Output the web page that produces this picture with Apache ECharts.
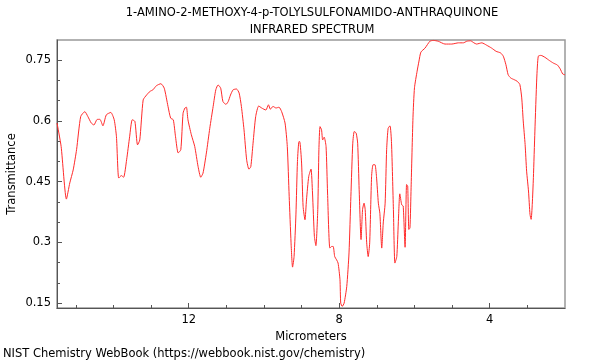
<!DOCTYPE html>
<html>
<head>
<meta charset="utf-8">
<script src="https://cdn.jsdelivr.net/npm/echarts@6/dist/echarts.min.js"></script>
<style>html,body{margin:0;padding:0;background:#fff}#c{width:600px;height:360px}</style>
</head>
<body>
<div id="c"></div>
<script>
const titleLines = ['1-AMINO-2-METHOXY-4-p-TOLYLSULFONAMIDO-ANTHRAQUINONE', 'INFRARED SPECTRUM'];
const xName = 'Micrometers';
const yName = 'Transmittance';
const footer = 'NIST Chemistry WebBook (https://webbook.nist.gov/chemistry)';
const xTickLabels = [4, 8, 12];
const xMinorTicks = [3, 5, 6, 7, 9, 10, 11, 13, 14, 15];
const yTickLabels = [0.15, 0.3, 0.45, 0.6, 0.75];
const yMinorTicks = [0.2, 0.25, 0.35, 0.4, 0.5, 0.55, 0.65, 0.7];

const wavelength = [
15.50,15.39,15.25,15.16,15.07,14.98,14.87,14.76,14.68,14.59,14.52,14.43,14.36,14.28,14.19,14.07,13.98,13.92,13.86,13.79,
13.73,13.65,13.57,13.50,13.43,13.36,13.30,13.21,13.12,13.03,12.95,12.86,12.74,12.65,12.55,12.48,12.41,12.35,12.28,12.21,
12.15,12.10,12.06,12.02,11.93,11.84,11.75,11.68,11.62,11.53,11.44,11.35,11.28,11.22,11.15,11.09,11.01,10.95,10.89,10.82,
10.73,10.66,10.60,10.53,10.46,10.40,10.35,10.29,10.22,10.14,10.06,9.95,9.88,9.83,9.76,9.68,9.60,9.53,9.44,9.38,
9.33,9.28,9.24,9.20,9.15,9.11,9.07,9.05,9.00,8.96,8.91,8.87,8.81,8.75,8.71,8.66,8.62,8.57,8.54,8.51,
8.47,8.44,8.40,8.35,8.31,8.25,8.20,8.16,8.12,8.07,8.03,7.98,7.96,7.92,7.87,7.80,7.74,7.69,7.64,7.60,
7.55,7.51,7.47,7.42,7.38,7.34,7.31,7.27,7.23,7.19,7.14,7.10,7.05,7.01,6.96,6.92,6.87,6.83,6.78,6.74,
6.70,6.65,6.61,6.56,6.52,6.47,6.43,6.39,6.34,6.30,6.25,6.21,6.18,6.15,6.12,6.09,6.04,6.00,5.93,5.88,
5.83,5.72,5.59,5.50,5.37,5.19,5.01,4.83,4.70,4.61,4.51,4.42,4.35,4.21,4.08,3.95,3.83,3.71,3.64,3.57,
3.51,3.44,3.35,3.27,3.20,3.15,3.11,3.06,3.02,2.97,2.93,2.90,2.87,2.84,2.80,2.75,2.71,2.64,2.53,2.41,
2.31,2.20,2.13,2.06,2.00
];
const transmittance = [
0.595,0.537,0.407,0.447,0.479,0.529,0.611,0.623,0.611,0.595,0.590,0.604,0.604,0.588,0.615,0.621,0.603,0.561,0.459,0.465,
0.461,0.504,0.561,0.603,0.599,0.541,0.553,0.652,0.664,0.673,0.677,0.687,0.692,0.681,0.636,0.607,0.603,0.561,0.521,0.529,
0.619,0.632,0.634,0.603,0.566,0.537,0.487,0.461,0.471,0.521,0.582,0.636,0.677,0.689,0.681,0.648,0.641,0.648,0.664,0.677,
0.679,0.669,0.636,0.578,0.504,0.481,0.487,0.545,0.611,0.637,0.632,0.627,0.640,0.629,0.636,0.632,0.634,0.623,0.595,0.537,
0.414,0.299,0.239,0.265,0.370,0.500,0.549,0.549,0.496,0.389,0.356,0.405,0.463,0.481,0.422,0.315,0.292,0.381,0.529,0.586,
0.578,0.553,0.560,0.537,0.422,0.286,0.290,0.290,0.265,0.257,0.249,0.208,0.150,0.142,0.150,0.191,0.274,0.414,0.545,0.574,
0.570,0.545,0.430,0.307,0.381,0.397,0.381,0.299,0.265,0.299,0.463,0.492,0.492,0.463,0.397,0.372,0.286,0.348,0.397,0.529,
0.582,0.588,0.545,0.381,0.249,0.265,0.348,0.420,0.393,0.390,0.288,0.443,0.439,0.332,0.336,0.435,0.608,0.682,0.723,0.748,
0.770,0.780,0.797,0.799,0.797,0.790,0.790,0.793,0.793,0.797,0.798,0.793,0.790,0.793,0.787,0.780,0.772,0.768,0.760,0.739,
0.714,0.706,0.702,0.698,0.690,0.657,0.600,0.542,0.476,0.427,0.369,0.357,0.394,0.460,0.575,0.706,0.760,0.762,0.757,0.749,
0.743,0.738,0.729,0.716,0.714
];

const X_MIN = 2, X_MAX = 15.5, Y_MIN = 0.138, Y_MAX = 0.8;
const FONT = 'DejaVu Sans';
const axisColor = '#555';

const chart = echarts.init(document.getElementById('c'), null, {renderer: 'canvas'});
const data = wavelength.map((w, i) => [w, transmittance[i]]);

chart.setOption({
  animation: false,
  grid: {left: 57, right: 35, top: 40, bottom: 52, containLabel: false, outerBoundsMode: 'none',
         show: true, borderColor: '#999', borderWidth: 1.5, backgroundColor: 'transparent'},
  xAxis: [{
    type: 'value', inverse: true, min: X_MIN, max: X_MAX,
    name: xName, nameLocation: 'middle', nameGap: 16,
    nameTextStyle: {fontFamily: FONT, fontSize: 11.5, color: '#000'},
    axisLine: {show: true, lineStyle: {color: axisColor, width: 1}},
    axisTick: {show: true, inside: true, length: 5, customValues: xTickLabels, lineStyle: {color: axisColor}},
    axisLabel: {customValues: xTickLabels, fontFamily: FONT, fontSize: 11.5, color: '#000', margin: 6},
    splitLine: {show: false}
  }, {
    type: 'value', inverse: true, min: X_MIN, max: X_MAX, position: 'bottom',
    axisLine: {show: false},
    axisTick: {show: true, inside: true, length: 3, customValues: xMinorTicks, lineStyle: {color: axisColor}},
    axisLabel: {show: false},
    splitLine: {show: false}
  }],
  yAxis: [{
    type: 'value', min: Y_MIN, max: Y_MAX,
    axisLine: {show: true, lineStyle: {color: axisColor, width: 1}},
    axisTick: {show: true, inside: true, length: 5, customValues: yTickLabels, lineStyle: {color: axisColor}},
    axisLabel: {customValues: yTickLabels, fontFamily: FONT, fontSize: 11.5, color: '#000', margin: 6},
    splitLine: {show: false}
  }, {
    type: 'value', min: Y_MIN, max: Y_MAX, position: 'left',
    axisLine: {show: false},
    axisTick: {show: true, inside: true, length: 3, customValues: yMinorTicks, lineStyle: {color: axisColor}},
    axisLabel: {show: false},
    splitLine: {show: false}
  }],
  graphic: [
    {type: 'text', x: 312, y: 7, style: {text: titleLines[0], font: '11.5px "DejaVu Sans"', fill: '#000', textAlign: 'center', textVerticalAlign: 'top'}},
    {type: 'text', x: 312, y: 24, style: {text: titleLines[1], font: '11.5px "DejaVu Sans"', fill: '#000', textAlign: 'center', textVerticalAlign: 'top'}},
    {type: 'text', x: 12, y: 174, rotation: Math.PI / 2, style: {text: yName, font: '11.5px "DejaVu Sans"', fill: '#000', textAlign: 'center', textVerticalAlign: 'middle'}},
    {type: 'text', x: 3, y: 348, style: {text: footer, font: '11.5px "DejaVu Sans"', fill: '#000', textAlign: 'left', textVerticalAlign: 'top'}}
  ],
  series: [{
    type: 'line', data: data, showSymbol: false, smooth: 0.2,
    clip: true,
    lineStyle: {color: '#ff2a2a', width: 1}
  }]
});
</script>
</body>
</html>
